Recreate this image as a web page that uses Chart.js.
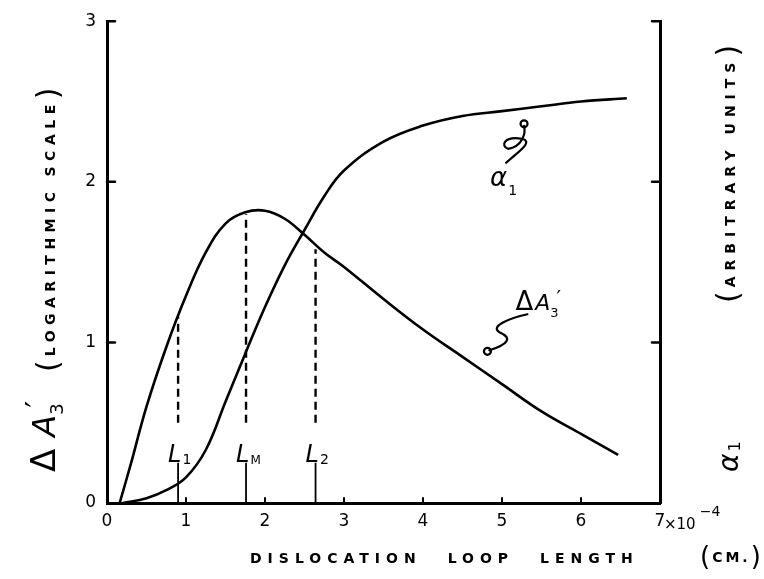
<!DOCTYPE html>
<html>
<head>
<meta charset="utf-8">
<script src="https://cdn.jsdelivr.net/npm/chart.js@4.4.1/dist/chart.umd.min.js"></script>
<style>
    html, body { margin: 0; padding: 0; background: #fff; }
</style>
</head>
<body>
<canvas id="chart" width="764" height="579"></canvas>
<script>
// ------------------------------
// Data
// ------------------------------
const xTickLabels = ['0', '1', '2', '3', '4', '5', '6', '7'];
const xExponent = '×10';
const xExponentPow = '−4';
const yTickLabels = ['0', '1', '2', '3'];

// ΔA3' (left axis, log scale)
const deltaX = [0.16, 0.3, 0.5, 0.75, 1.0, 1.25, 1.5, 1.75, 2.0, 2.25, 2.5, 2.75, 3.0, 3.5, 4.0, 4.5, 5.0, 5.5, 6.0, 6.47];
const deltaY = [0.0, 0.24, 0.6, 0.97, 1.29, 1.56, 1.74, 1.81, 1.82, 1.77, 1.67, 1.56, 1.47, 1.27, 1.08, 0.91, 0.74, 0.57, 0.43, 0.3];

// alpha1 (right axis, arbitrary units)
const alphaX = [0.2, 0.5, 0.75, 1.0, 1.25, 1.5, 1.75, 2.0, 2.25, 2.5, 2.75, 3.0, 3.5, 4.0, 4.5, 5.0, 5.5, 6.0, 6.58];
const alphaY = [0.0, 0.03, 0.08, 0.16, 0.33, 0.63, 0.93, 1.22, 1.48, 1.7, 1.91, 2.07, 2.25, 2.35, 2.41, 2.44, 2.47, 2.5, 2.52];

// L1, LM, L2 markers
const markerSubs = ['1', 'M', '2'];
const markerX = [0.9, 1.76, 2.64];
const markerTop = [1.16, 1.8, 1.58];
const dashBottom = 0.5;
const stemTop = 0.25;

const pts = (xs, ys) => xs.map((v, i) => ({ x: v, y: ys[i] }));

function markerLines(from, tops) {
    const out = [];
    markerX.forEach((mx, i) => {
        out.push({ x: mx, y: from });
        out.push({ x: mx, y: tops[i] });
        out.push({ x: mx, y: null });
    });
    return out;
}

const INK = '#000';
const HAND = "'DejaVu Sans', sans-serif";
const CAPS = `bold 14px ${HAND}`;

// draw a chain of text pieces, each one after the previous
function chain(ctx, x0, y0, parts) {
    let x = x0;
    parts.forEach(p => {
        ctx.font = p.f;
        ctx.letterSpacing = p.ls || '0px';
        x += p.dx || 0;
        ctx.fillText(p.t, x, y0 + (p.dy || 0));
        x += ctx.measureText(p.t).width;
    });
    ctx.letterSpacing = '0px';
}

// ------------------------------
// Decorations: inward ticks, axis titles, notes
// ------------------------------
const decor = {
    id: 'decor',
    afterDraw(chart) {
        const { ctx, chartArea: a, scales: { x, y } } = chart;
        ctx.save();
        ctx.strokeStyle = INK;
        ctx.fillStyle = INK;
        ctx.lineCap = 'round';

        // inward tick marks
        ctx.lineWidth = 2.5;
        yTickLabels.forEach((t, v) => {
            if (v === 0) return;
            const py = y.getPixelForValue(v);
            ctx.beginPath();
            ctx.moveTo(a.left, py); ctx.lineTo(a.left + 8, py);
            ctx.moveTo(a.right, py); ctx.lineTo(a.right - 8, py);
            ctx.stroke();
        });
        ctx.lineWidth = 2;
        xTickLabels.forEach((t, v) => {
            if (v === 0 || v === 7) return;
            const px = x.getPixelForValue(v);
            ctx.beginPath();
            ctx.moveTo(px, a.bottom); ctx.lineTo(px, a.bottom - 5);
            ctx.stroke();
        });

        // x10^-4 after the last tick label
        const p7 = x.getPixelForValue(7);
        chain(ctx, p7 + 4, a.bottom + 26, [
            { t: xExponent, f: `15px ${HAND}` },
            { t: xExponentPow, f: `14px ${HAND}`, dx: 4, dy: -13 }
        ]);

        // L1 / LM / L2 labels
        markerX.forEach((mx, i) => {
            const px = x.getPixelForValue(mx);
            const py = y.getPixelForValue(stemTop) - 1;
            chain(ctx, px - 10, py, [
                { t: 'L', f: `italic 24px ${HAND}` },
                { t: markerSubs[i], f: `${markerSubs[i] === 'M' ? 12 : 14}px ${HAND}`, dx: 1, dy: 2 }
            ]);
        });

        // alpha1 note with squiggle arrow
        let nx = x.getPixelForValue(4.95), ny = y.getPixelForValue(2.0);
        chain(ctx, nx - 8, ny + 4, [
            { t: 'α', f: `italic 26px ${HAND}` },
            { t: '1', f: `14px ${HAND}`, dx: 1, dy: 9 }
        ]);
        ctx.lineWidth = 2.2;
        ctx.beginPath();
        ctx.moveTo(nx + 8, ny - 19);
        ctx.bezierCurveTo(nx + 20, ny - 30, nx + 36, ny - 40, nx + 24, ny - 43);
        ctx.bezierCurveTo(nx + 6, ny - 46, nx + 2, ny - 36, nx + 10, ny - 33);
        ctx.bezierCurveTo(nx + 24, ny - 35, nx + 28, ny - 48, nx + 26, ny - 56);
        ctx.stroke();
        ctx.beginPath();
        ctx.arc(nx + 26, ny - 58, 3.5, 0, Math.PI * 2);
        ctx.stroke();

        // delta A3' note with squiggle arrow
        nx = x.getPixelForValue(5.17); ny = y.getPixelForValue(1.2);
        chain(ctx, nx, ny, [
            { t: 'Δ', f: `26px ${HAND}` },
            { t: 'A', f: `italic 22px ${HAND}`, dx: 2 },
            { t: '3', f: `13px ${HAND}`, dx: 0, dy: 7 },
            { t: '′', f: `20px ${HAND}`, dx: -2, dy: -6 }
        ]);
        ctx.beginPath();
        ctx.moveTo(nx + 12, ny + 4);
        ctx.bezierCurveTo(nx - 6, ny + 8, nx - 26, ny + 16, nx - 16, ny + 22);
        ctx.bezierCurveTo(nx - 2, ny + 28, nx - 8, ny + 34, nx - 26, ny + 40);
        ctx.stroke();
        ctx.beginPath();
        ctx.arc(nx - 28, ny + 41, 3.5, 0, Math.PI * 2);
        ctx.stroke();

        // left axis title (rotated)
        ctx.save();
        ctx.translate(55, 0);
        ctx.rotate(-Math.PI / 2);
        chain(ctx, -472, 0, [
            { t: 'Δ', f: `34px ${HAND}` },
            { t: 'A', f: `italic 32px ${HAND}`, dx: 12 },
            { t: '3', f: `18px ${HAND}`, dx: 0, dy: 8 },
            { t: '′', f: `30px ${HAND}`, dx: -4, dy: -8 }
        ]);
        chain(ctx, -372, 3, [
            { t: '(', f: `30px ${HAND}` },
            { t: 'LOGARITHMIC', f: CAPS, ls: '5.5px', dx: 4, dy: -3 },
            { t: 'SCALE', f: CAPS, ls: '5.5px', dx: 10, dy: -3 },
            { t: ')', f: `30px ${HAND}`, dx: 0 }
        ]);
        ctx.restore();

        // right axis title (rotated)
        ctx.save();
        ctx.translate(738, 0);
        ctx.rotate(-Math.PI / 2);
        chain(ctx, -472, 0, [
            { t: 'α', f: `italic 28px ${HAND}` },
            { t: '1', f: `16px ${HAND}`, dx: 2, dy: 2 }
        ]);
        chain(ctx, -303, 0, [
            { t: '(', f: `30px ${HAND}` },
            { t: 'ARBITRARY', f: CAPS, ls: '6px', dx: 4, dy: -3 },
            { t: 'UNITS', f: CAPS, ls: '6px', dx: 10, dy: -3 },
            { t: ')', f: `30px ${HAND}`, dx: 0 }
        ]);
        ctx.restore();

        // x axis title
        chain(ctx, 250, 563, [
            { t: 'DISLOCATION', f: CAPS, ls: '6px' },
            { t: 'LOOP', f: CAPS, ls: '6px', dx: 26 },
            { t: 'LENGTH', f: CAPS, ls: '6px', dx: 26 }
        ]);
        chain(ctx, 700, 565, [
            { t: '(', f: `26px ${HAND}` },
            { t: 'CM.', f: CAPS, ls: '3px', dx: 2, dy: -3 },
            { t: ')', f: `26px ${HAND}` }
        ]);

        ctx.restore();
    }
};

const curveStyle = {
    borderColor: INK,
    borderWidth: 2.6,
    pointRadius: 0,
    fill: false,
    tension: 0.4
};

new Chart(document.getElementById('chart').getContext('2d'), {
    type: 'line',
    data: {
        datasets: [
            { label: "ΔA3'", data: pts(deltaX, deltaY), yAxisID: 'y', ...curveStyle },
            { label: 'α1', data: pts(alphaX, alphaY), yAxisID: 'y2', ...curveStyle },
            {
                label: 'dashes', data: markerLines(dashBottom, markerTop), yAxisID: 'y',
                borderColor: INK, borderWidth: 2.4, borderDash: [8, 5], pointRadius: 0,
                tension: 0, spanGaps: false
            },
            {
                label: 'stems', data: markerLines(0, markerX.map(() => stemTop)), yAxisID: 'y',
                borderColor: INK, borderWidth: 1.8, pointRadius: 0, tension: 0, spanGaps: false
            }
        ]
    },
    options: {
        responsive: false,
        animation: false,
        layout: { padding: { top: 20, left: 0, right: 0, bottom: 0 } },
        plugins: { legend: { display: false }, tooltip: { enabled: false } },
        scales: {
            x: {
                type: 'linear', min: 0, max: 7,
                grid: { display: false, drawTicks: false },
                border: { color: INK, width: 3 },
                ticks: {
                    stepSize: 1, padding: 8, color: INK, maxRotation: 0,
                    font: { family: HAND, size: 17 },
                    callback: v => xTickLabels[v]
                },
                afterFit: s => { s.height = 76; }
            },
            y: {
                position: 'left', min: 0, max: 3,
                grid: { display: false, drawTicks: false },
                border: { color: INK, width: 3 },
                ticks: {
                    stepSize: 1, padding: 11, color: INK,
                    font: { family: HAND, size: 17 },
                    callback: v => yTickLabels[v]
                },
                afterFit: s => { s.width = 107; }
            },
            y2: {
                position: 'right', min: 0, max: 3,
                grid: { display: false, drawTicks: false },
                border: { color: INK, width: 3 },
                ticks: { display: false, stepSize: 1 },
                afterFit: s => { s.width = 104; }
            }
        }
    },
    plugins: [decor]
});
</script>
</body>
</html>
